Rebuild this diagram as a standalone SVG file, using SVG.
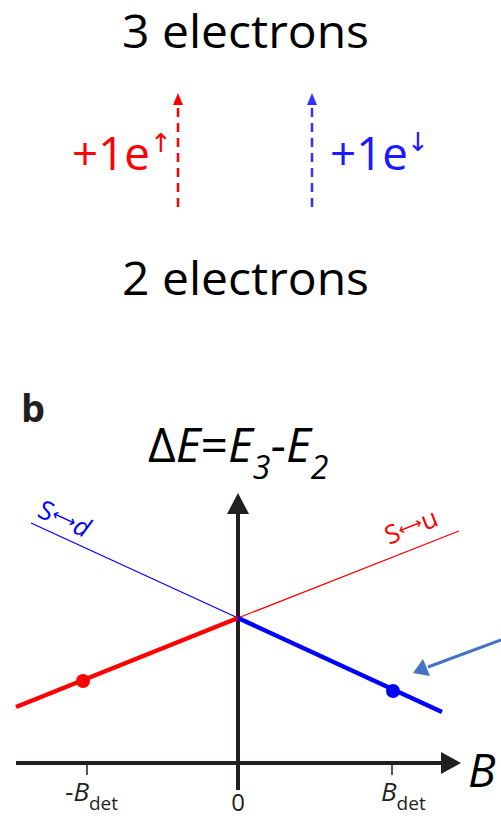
<svg xmlns="http://www.w3.org/2000/svg" width="501" height="820" viewBox="0 0 501 820">
<style>
text{font-family:"Open Sans","Noto Sans","Liberation Sans",sans-serif;}
.big{font-size:45px;fill:#000;}
.axis{stroke:#231f20;stroke-width:4;fill:none;}
.tick{stroke:#231f20;stroke-width:1.5;}
.it{font-style:italic;}
.sym{font-family:"DejaVu Sans",sans-serif;}
</style>
<rect width="501" height="820" fill="#fff"/>
<g id="three-electrons"><text class="big" x="122" y="48" textLength="247" lengthAdjust="spacingAndGlyphs">3 electrons</text></g>
<g id="two-electrons"><text class="big" x="122" y="295" textLength="247" lengthAdjust="spacingAndGlyphs">2 electrons</text></g>
<g id="connectors">
<line x1="178" y1="207" x2="178" y2="104" stroke="#ff0000" stroke-width="2.5" stroke-dasharray="9,6"/>
<polygon points="178,93 173,105 183,105" fill="#ff0000"/>
<line x1="312" y1="207" x2="312" y2="104" stroke="#3333ff" stroke-width="2.5" stroke-dasharray="9,6"/>
<polygon points="312,93 307,105 317,105" fill="#3333ff"/>
<line x1="501" y1="640" x2="428" y2="667" stroke="#4472c4" stroke-width="3"/>
<polygon points="413,673 423,659 430,676" fill="#4472c4"/>
</g>
<g id="plus-up"><text x="72" y="170" font-size="46" fill="#ff0000" textLength="78" lengthAdjust="spacingAndGlyphs">+1e</text><text class="sym" x="150" y="152" font-size="26" fill="#ff0000">↑</text></g>
<g id="plus-down"><text x="330" y="170" font-size="46" fill="#1a1aff" textLength="78" lengthAdjust="spacingAndGlyphs">+1e</text><text class="sym" x="407" y="151" font-size="26" fill="#1a1aff">↓</text></g>
<g id="label-b"><text x="21" y="422" font-size="38" font-weight="bold" fill="#231f20">b</text></g>
<g id="delta-e"><text x="148" y="462" font-size="48" fill="#000"><tspan>Δ</tspan><tspan class="it">E</tspan><tspan>=</tspan><tspan class="it">E</tspan><tspan class="it" font-size="32" dy="17">3</tspan><tspan dy="-17">-</tspan><tspan class="it">E</tspan><tspan class="it" font-size="32" dy="17">2</tspan></text></g>
<g id="axes">
<line class="axis" x1="238" y1="790" x2="238" y2="510"/>
<polygon points="238,493 227,514 249,514" fill="#231f20"/>
<line class="axis" x1="16" y1="763" x2="445" y2="763"/>
<polygon points="461,763 441,752 441,774" fill="#231f20"/>
<line class="tick" x1="87" y1="763" x2="87" y2="775"/>
<line class="tick" x1="392" y1="763" x2="392" y2="775"/>
</g>
<g id="lines">
<line x1="31" y1="523" x2="238" y2="618" stroke="#0000ff" stroke-width="1.3"/>
<line x1="238" y1="618" x2="459" y2="531" stroke="#ff0000" stroke-width="1.3"/>
<line x1="16" y1="707" x2="238" y2="618" stroke="#ff0000" stroke-width="4.5"/>
<line x1="238" y1="618" x2="442" y2="712" stroke="#0000ff" stroke-width="4.5"/>
<circle cx="83" cy="681" r="7" fill="#ff0000"/>
<circle cx="393" cy="691" r="7" fill="#0000ff"/>
</g>
<g id="label-sd"><text transform="translate(36,516) rotate(24.6)" font-size="26" fill="#0000ff">S<tspan class="sym" font-size="17" dy="-4">⟷</tspan><tspan class="it" dy="4">d</tspan></text></g>
<g id="label-su"><text transform="translate(389,545) rotate(-21.5)" font-size="26" fill="#ff0000">S<tspan class="sym" font-size="17" dy="-4">⟷</tspan><tspan dy="4">u</tspan></text></g>
<g id="label-B"><text class="it" x="468" y="787" font-size="46" fill="#000">B</text></g>
<g id="tick-labels">
<text x="65" y="801" font-size="26" fill="#231f20"><tspan>-</tspan><tspan class="it">B</tspan><tspan font-size="19" dy="9">det</tspan></text>
<text x="238" y="811" font-size="24" fill="#231f20" text-anchor="middle">0</text>
<text x="381" y="801" font-size="26" fill="#231f20"><tspan class="it">B</tspan><tspan font-size="19" dy="9">det</tspan></text>
</g>
</svg>
